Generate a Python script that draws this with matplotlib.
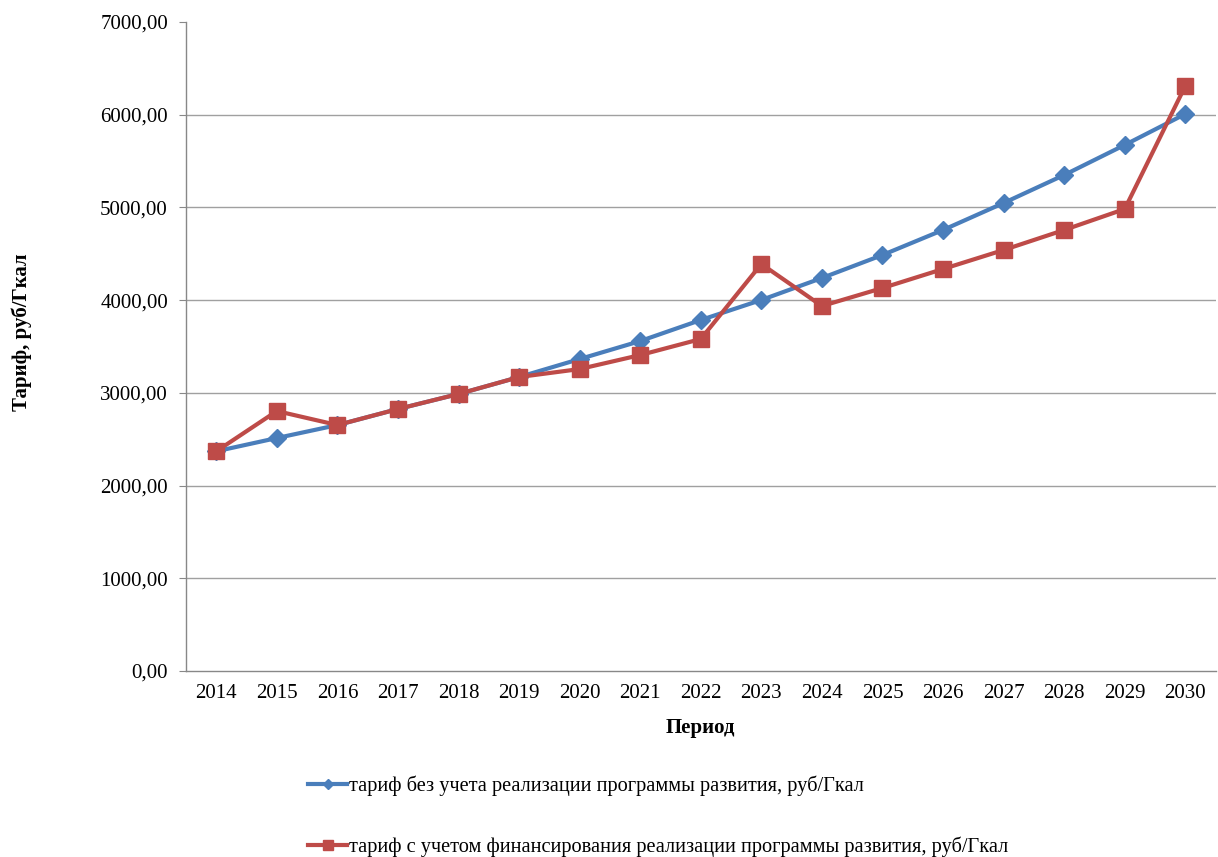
import matplotlib
matplotlib.use("Agg")
import matplotlib.pyplot as plt
from matplotlib.ticker import FuncFormatter

years = ["2014", "2015", "2016", "2017", "2018", "2019", "2020", "2021", "2022",
         "2023", "2024", "2025", "2026", "2027", "2028", "2029", "2030"]
tariff_base = [2370, 2513, 2653, 2826, 2988, 3171, 3365, 3559, 3786,
               4002, 4239, 4487, 4757, 5048, 5350, 5674, 6008]
tariff_dev = [2370, 2804, 2653, 2826, 2988, 3171, 3257, 3408, 3581,
              4390, 3937, 4131, 4336, 4541, 4757, 4983, 6310]
label_base = "тариф без учета реализации программы развития, руб/Гкал"
label_dev = "тариф с учетом финансирования реализации программы развития, руб/Гкал"
y_ticks = [0, 1000, 2000, 3000, 4000, 5000, 6000, 7000]

plt.rcParams['font.family'] = ['Liberation Serif', 'DejaVu Serif']
FS = 15

fig = plt.figure(figsize=(12.18, 8.57), dpi=100)
ax = fig.add_axes([0.1527, 0.217, 0.8453, 0.7573])

x = list(range(len(years)))
l1, = ax.plot(x, tariff_base, color='#4A7EBB', lw=3, marker='D', ms=9,
              markeredgecolor='#4A7EBB', label=label_base, zorder=3)
l2, = ax.plot(x, tariff_dev, color='#BE4B48', lw=3, marker='s', ms=11,
              markeredgecolor='#BE4B48', label=label_dev, zorder=4)

ax.set_xlim(-0.5, len(years) - 0.5)
ax.set_ylim(0, 7000)
ax.set_xticks(x)
ax.set_xticklabels(years, fontsize=FS)
ax.set_yticks(y_ticks)
ax.yaxis.set_major_formatter(FuncFormatter(lambda v, p: f"{v:.2f}".replace('.', ',')))
ax.tick_params(axis='y', labelsize=FS, length=5, color='#888888', pad=8)
ax.tick_params(axis='x', length=0, pad=9)

for v in y_ticks[1:-1]:
    ax.axhline(v, color='#A0A0A0', lw=1, zorder=1)

for s in ['top', 'right']:
    ax.spines[s].set_visible(False)
for s in ['left', 'bottom']:
    ax.spines[s].set_color('#888888')
    ax.spines[s].set_linewidth(1)

ax.set_xlabel("Период", fontsize=FS, fontweight='bold', labelpad=11)
fig.text(0.018, 0.612, "Тариф, руб/Гкал", rotation=90, fontsize=FS,
         fontweight='bold', ha='center', va='center')

fig.legend(handles=[l1, l2], loc='upper left', bbox_to_anchor=(0.253, 0.095),
           bbox_transform=fig.transFigure, frameon=False, fontsize=14.7,
           handlelength=1.9, handletextpad=0.1, labelspacing=2.0,
           borderaxespad=0, borderpad=0, markerscale=0.6)

fig.savefig("out.png", dpi=100)
